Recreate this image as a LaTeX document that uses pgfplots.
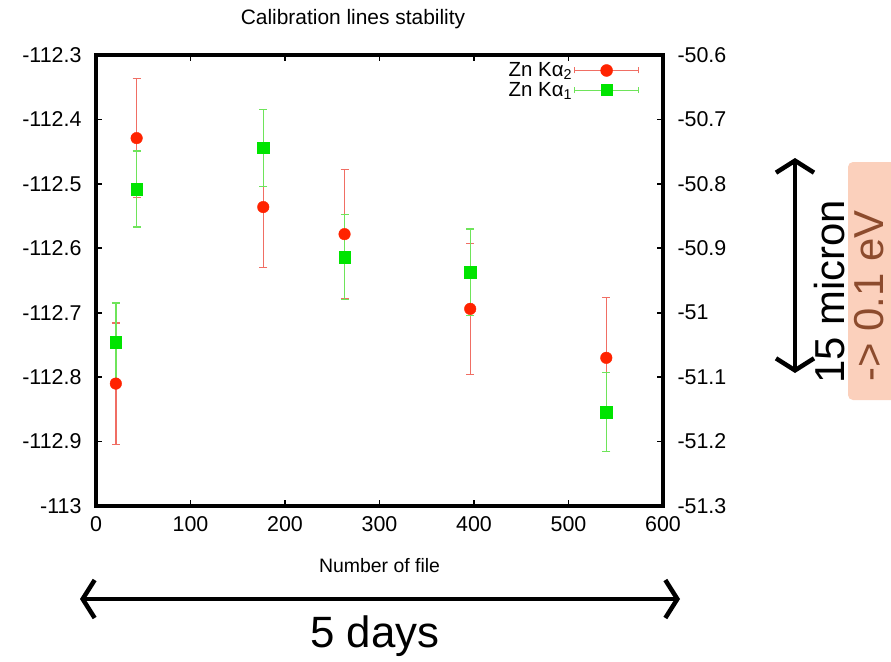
\documentclass[border=0pt]{standalone}
\usepackage{pgfplots}
\pgfplotsset{compat=1.18}
\usepackage{pgfplotstable}
\usepackage{fontspec}
\setmainfont{Liberation Sans}
\usetikzlibrary{arrows.meta}
\definecolor{redm}{RGB}{255,35,0}
\definecolor{rederr}{RGB}{240,110,100}
\definecolor{greenm}{RGB}{0,228,0}
\definecolor{greenerr}{RGB}{110,228,90}
\definecolor{boxfill}{RGB}{251,208,188}
\definecolor{boxtext}{RGB}{140,75,45}

\pgfplotstableread{
x y e
21 -112.810 0.094
43 -112.429 0.092
177 -112.536 0.094
263 -112.578 0.100
396 -112.694 0.102
540 -112.770 0.094
}\kalphatwo
\pgfplotstableread{
x y e
21 -112.746 0.061
43 -112.508 0.059
177 -112.444 0.060
263 -112.614 0.066
396 -112.637 0.067
540 -112.854 0.061
}\kalphaone

\begin{document}
\begin{tikzpicture}
\path[use as bounding box] (0,0) rectangle (891bp,-662bp);
\begin{axis}[
  at={(96bp,-506bp)}, anchor=south west,
  scale only axis, width=567bp, height=451bp,
  xmin=0, xmax=600, ymin=-113, ymax=-112.3,
  xtick={0,100,200,300,400,500,600},
  ytick={-113,-112.9,-112.8,-112.7,-112.6,-112.5,-112.4,-112.3},
  ytick pos=left,
  tick align=inside,
  major tick length=6bp,
  every tick/.style={line width=1.6bp, black},
  ticklabel style={font=\fontsize{21.5}{24}\selectfont},
  /pgf/number format/assume math mode=true,
  yticklabel style={/pgf/number format/fixed, /pgf/number format/precision=1, xshift=-11bp},
  xticklabel style={yshift=-7bp},
  xlabel={Number of file},
  xlabel style={font=\fontsize{19.5}{22}\selectfont, yshift=-20bp},
  legend style={draw=none, fill=none, at={(rel axis cs:0.96,0.99)}, anchor=north east,
    font=\fontsize{20.5}{23}\selectfont, row sep=0bp, inner sep=1bp},
  legend cell align=right,
  legend plot pos=right,
  clip=false,
]
\addplot[only marks, mark=*, color=redm, mark size=5.8bp,
  mark options={draw=redm, fill=redm},
  legend image code/.code={\draw[rederr,line width=1bp] (0bp,0bp)--(64bp,0bp) (0bp,-3bp)--(0bp,3bp) (64bp,-3bp)--(64bp,3bp); \fill[redm] (32bp,0bp) circle (6bp);},
  error bars/.cd, y dir=both, y explicit,
  error bar style={rederr, line width=1.4bp},
  error mark options={rotate=90, rederr, mark size=4bp, line width=1.2bp}]
  table[x=x, y=y, y error=e] {\kalphatwo};
\addlegendentry{Zn Kα\textsubscript{2}}
\addplot[only marks, mark=square*, color=greenm, mark size=5.8bp,
  mark options={draw=greenm, fill=greenm},
  legend image code/.code={\draw[greenerr,line width=1bp] (0bp,0bp)--(64bp,0bp) (0bp,-3bp)--(0bp,3bp) (64bp,-3bp)--(64bp,3bp); \fill[greenm] (26.5bp,-5.5bp) rectangle (37.5bp,5.5bp);},
  error bars/.cd, y dir=both, y explicit,
  error bar style={greenerr, line width=1.4bp},
  error mark options={rotate=90, greenerr, mark size=4bp, line width=1.2bp}]
  table[x=x, y=y, y error=e] {\kalphaone};
\addlegendentry{Zn Kα\textsubscript{1}}
\end{axis}
\begin{axis}[
  at={(96bp,-506bp)}, anchor=south west,
  scale only axis, width=567bp, height=451bp,
  xmin=0, xmax=600, ymin=-51.3, ymax=-50.6,
  axis x line=none, axis y line*=right,
  ytick={-51.3,-51.2,-51.1,-51,-50.9,-50.8,-50.7,-50.6},
  tick align=inside,
  major tick length=6bp,
  axis line style={-},
  every tick/.style={line width=1.6bp, black},
  ticklabel style={font=\fontsize{21.5}{24}\selectfont},
  /pgf/number format/assume math mode=true,
  yticklabel style={/pgf/number format/fixed, /pgf/number format/precision=1, xshift=11bp},
]
\end{axis}
% thick frame of the plot area
\draw[line width=3.4bp] (96bp,-506bp) rectangle (663bp,-55bp);
\node[font=\fontsize{21}{24}\selectfont] at (353bp,-19bp) {Calibration lines stability};
% annotations
\draw[line width=4.5bp, {Straight Barb[length=12bp,width=38bp,line width=4.5bp]}-{Straight Barb[length=12bp,width=38bp,line width=4.5bp]}] (80bp,-599bp) -- (680bp,-599bp);
\node[font=\fontsize{44}{50}\selectfont] at (375bp,-636bp) {5 days};
\draw[line width=4.5bp, {Straight Barb[length=12bp,width=38bp,line width=4.5bp]}-{Straight Barb[length=12bp,width=38bp,line width=4.5bp]}] (795bp,-158bp) -- (795bp,-373bp);
\node[rotate=90, font=\fontsize{42}{48}\selectfont] at (830bp,-292bp) {15 micron};
\fill[boxfill, rounded corners=5bp] (848bp,-162bp) rectangle (905bp,-400bp);
\node[rotate=90, font=\fontsize{42}{48}\selectfont, text=boxtext] at (869bp,-296bp) {-> 0.1 eV};
\end{tikzpicture}
\end{document}
